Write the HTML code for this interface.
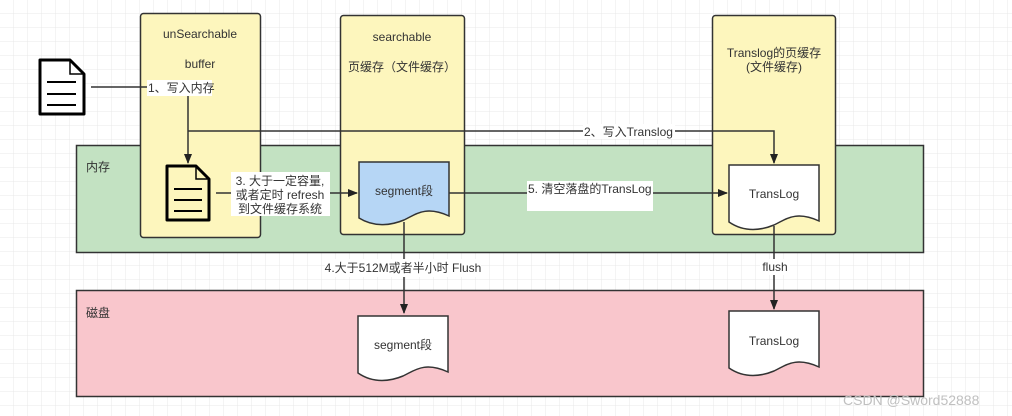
<!DOCTYPE html>
<html><head><meta charset="utf-8"><style>
html,body{margin:0;padding:0;background:#fff}
svg{display:block}
text{font-family:"Liberation Sans","Noto Sans CJK SC",sans-serif;font-size:12px;fill:#333}
</style></head><body>
<svg width="1012" height="416" viewBox="0 0 1012 416" xmlns="http://www.w3.org/2000/svg">
<defs>
<pattern id="g" x="13.5" y="13.5" width="14" height="14" patternUnits="userSpaceOnUse">
<path d="M0 0H14M0 0V14" stroke="#e8e8e8" stroke-width="1" fill="none"/>
</pattern>
<marker id="a" markerWidth="10" markerHeight="10" refX="9" refY="5" orient="auto" markerUnits="userSpaceOnUse">
<path d="M0 1L10 5L0 9Z" fill="#222"/>
</marker>
</defs>
<rect width="1012" height="416" fill="url(#g)"/>
<rect x="76.5" y="145.5" width="847" height="107" fill="#c3e2c2" stroke="#333" stroke-width="1.5"/>
<rect x="76.5" y="290.5" width="847" height="106" fill="#f9c6cc" stroke="#333" stroke-width="1.5"/>
<text x="86" y="171">内存</text>
<text x="86" y="317">磁盘</text>
<rect x="140.5" y="13.5" width="120" height="224" rx="3" fill="#fdf6bd" stroke="#333" stroke-width="1.5"/>
<rect x="340.5" y="15.5" width="124" height="219" rx="3" fill="#fdf6bd" stroke="#333" stroke-width="1.5"/>
<rect x="712.5" y="15.5" width="123" height="219" rx="3" fill="#fdf6bd" stroke="#333" stroke-width="1.5"/>
<text x="200" y="38" text-anchor="middle">unSearchable</text>
<text x="200" y="68" text-anchor="middle">buffer</text>
<text x="402" y="41" text-anchor="middle">searchable</text>
<text x="402" y="71" text-anchor="middle">页缓存（文件缓存）</text>
<text x="774" y="57" text-anchor="middle">Translog的页缓存</text>
<text x="774" y="71" text-anchor="middle">(文件缓存)</text>
<path d="M40 60H70L84 74V114H40Z" fill="#fff" stroke="#000" stroke-width="3" stroke-linejoin="round"/>
<path d="M70 60V74H84" fill="none" stroke="#000" stroke-width="1.5"/>
<path d="M47 82H76M47 94H76M47 105H76" stroke="#000" stroke-width="2"/>
<path d="M167 166H196L209 179V220H167Z" fill="#fdf6bd" stroke="#000" stroke-width="3" stroke-linejoin="round"/>
<path d="M196 166V179H209" fill="none" stroke="#000" stroke-width="1.5"/>
<path d="M174 189H202M174 200H202M174 211H202" stroke="#000" stroke-width="2"/>
<path d="M359 162H449V216C425 205 415 215 404 220C392 225 375 228 359 218Z" fill="#b6d6f5" stroke="#333" stroke-width="1.5"/>
<text x="404" y="195" text-anchor="middle">segment段</text>
<path d="M729 165H819V221C795 210 785 220 774 225C762 230 745 233 729 222Z" fill="#fff" stroke="#333" stroke-width="1.5"/>
<text x="774" y="198" text-anchor="middle">TransLog</text>
<path d="M358 316H448V372C424 361 414 371 403 376C391 381 374 384 358 373Z" fill="#fff" stroke="#333" stroke-width="1.5"/>
<text x="403" y="349" text-anchor="middle">segment段</text>
<path d="M729 311H819V367C795 356 785 366 774 371C762 376 745 379 729 368Z" fill="#fff" stroke="#333" stroke-width="1.5"/>
<text x="774" y="345" text-anchor="middle">TransLog</text>
<g stroke="#333" stroke-width="1.5" fill="none">
<path d="M91 87H188V163" marker-end="url(#a)"/>
<path d="M188 131H774V163" marker-end="url(#a)"/>
<path d="M216 193H357" marker-end="url(#a)"/>
<path d="M449 193H727" marker-end="url(#a)"/>
<path d="M404 222V313" marker-end="url(#a)"/>
<path d="M774 226V309" marker-end="url(#a)"/>
</g>
<rect x="147" y="80" width="65" height="16" fill="#fff"/>
<text x="148" y="92">1、写入内存</text>
<rect x="583" y="124" width="92" height="15" fill="#fff"/>
<text x="584" y="136">2、写入Translog</text>
<rect x="231" y="172" width="99" height="44" fill="#fff"/>
<text x="280" y="185" text-anchor="middle">3. 大于一定容量,</text>
<text x="280" y="199" text-anchor="middle">或者定时 refresh</text>
<text x="280" y="213" text-anchor="middle">到文件缓存系统</text>
<rect x="527" y="181" width="126" height="30" fill="#fff"/>
<text x="528" y="193">5. 清空落盘的TransLog</text>
<rect x="325" y="259" width="156" height="18" fill="#fff"/>
<text x="403" y="272" text-anchor="middle">4.大于512M或者半小时 Flush</text>
<rect x="760" y="259" width="30" height="16" fill="#fff"/>
<text x="775" y="271" text-anchor="middle">flush</text>
<text x="843" y="405" style="font-size:14px;fill:#c0c0c0">CSDN @Sword52888</text>
</svg>
</body></html>
